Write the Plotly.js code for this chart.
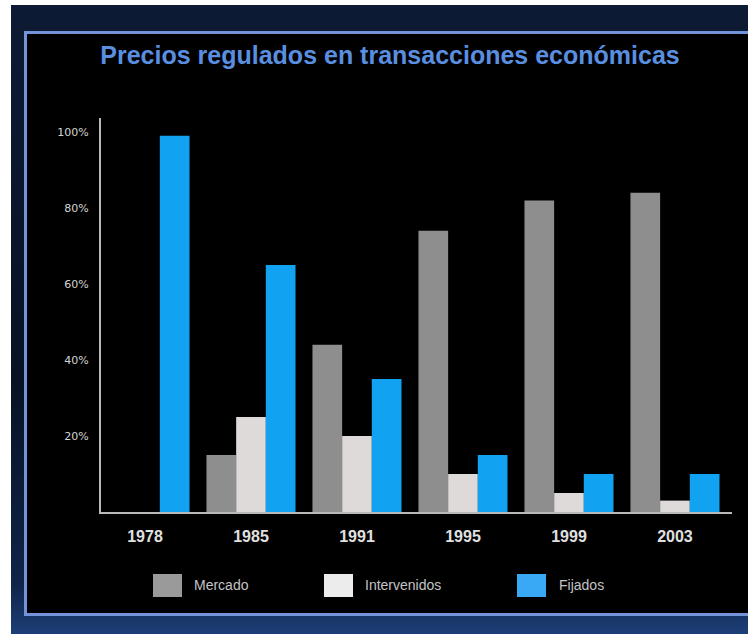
<!DOCTYPE html>
<html>
<head>
<meta charset="utf-8">
<script src="https://cdn.plot.ly/plotly-3.0.1.min.js"></script>
<style>
  html, body { margin: 0; padding: 0; background: #ffffff; width: 748px; height: 634px; overflow: hidden; }
  #frame { position: absolute; left: 11px; top: 5px; width: 737px; height: 629px;
           background: linear-gradient(180deg, #0d1a33 0%, #081224 60%, #0f2448 92%, #1d3f78 100%); }
  #inner { position: absolute; left: 24px; top: 31px; width: 740px; height: 585px;
           border: 3px solid #7393da; background: #000000; box-sizing: border-box; }
  #chart { position: absolute; left: 0; top: 0; width: 748px; height: 634px; }
</style>
</head>
<body>
<div id="frame"></div>
<div id="inner"></div>
<div id="chart"></div>
<script>
// ---- data ----
const years = ["1978", "1985", "1991", "1995", "1999", "2003"];
const seriesNames = ["Mercado", "Intervenidos", "Fijados"];
const mercado      = [null, 15, 44, 74, 82, 84];
const intervenidos = [null, 25, 20, 10, 5, 3];
const fijados      = [99, 65, 35, 15, 10, 10];
const yTickValues  = [20, 40, 60, 80, 100];
const yTickLabels  = ["20%", "40%", "60%", "80%", "100%"];

// ---- styling ----
const colors = ["#8e8e8e", "#dedada", "#12a2f2"];
const legendColors = ["#9a9a9a", "#ececec", "#3aa9f5"];

const W = 748, H = 634;
const M = { l: 101, r: 16, t: 118, b: 122 };
const pw = W - M.l - M.r, ph = H - M.t - M.b;
const px2x = p => (p - M.l) / pw;
const px2y = p => (H - M.b - p) / ph;

const traces = [mercado, intervenidos, fijados].map((vals, i) => ({
  type: "bar",
  name: seriesNames[i],
  x: years,
  y: vals,
  marker: { color: colors[i], line: { width: 0 } },
  hoverinfo: "x+y+name",
  showlegend: false
}));

// custom legend (large square swatches as in the reference)
const swatchLeft = [153, 324, 517];
const textLeft = [192, 363, 557];
const shapes = [];
const annotations = [];
seriesNames.forEach((nm, i) => {
  shapes.push({
    type: "rect", xref: "paper", yref: "paper",
    x0: px2x(swatchLeft[i]), x1: px2x(swatchLeft[i] + 29),
    y0: px2y(597), y1: px2y(574),
    fillcolor: legendColors[i], line: { width: 0 }
  });
  annotations.push({
    xref: "paper", yref: "paper",
    x: px2x(textLeft[i]), y: px2y(585),
    xanchor: "left", yanchor: "middle",
    text: nm, showarrow: false,
    font: { family: "Liberation Sans, Arial, sans-serif", size: 14, color: "#c4c4c4" }
  });
});

const layout = {
  width: W, height: H,
  margin: M,
  paper_bgcolor: "rgba(0,0,0,0)",
  plot_bgcolor: "rgba(0,0,0,0)",
  title: {
    text: "Precios regulados en transacciones económicas",
    x: 390 / W, xanchor: "center",
    y: 1 - 55 / H, yanchor: "middle",
    font: { family: "Liberation Sans, Arial, sans-serif", size: 25, color: "#5a8fe0", weight: "bold" }
  },
  barmode: "group",
  bargap: 0.16,
  bargroupgap: 0,
  xaxis: {
    type: "category",
    range: [-0.415, 5.538],
    showline: true, linecolor: "#b8b8b8", linewidth: 2,
    showgrid: false, zeroline: false,
    ticks: "outside", ticklen: 9, tickcolor: "rgba(0,0,0,0)",
    tickfont: { family: "Liberation Sans, Arial, sans-serif", size: 16, color: "#e0e0e0", weight: "bold" },
    fixedrange: true
  },
  yaxis: {
    range: [0, 103.7],
    showline: true, linecolor: "#b8b8b8", linewidth: 2,
    showgrid: false, zeroline: false,
    tickvals: yTickValues, ticktext: yTickLabels,
    ticks: "outside", ticklen: 8, tickcolor: "rgba(0,0,0,0)",
    tickfont: { family: "DejaVu Sans, sans-serif", size: 11, color: "#d4d4d4" },
    fixedrange: true
  },
  shapes: shapes,
  annotations: annotations,
  showlegend: false
};

Plotly.newPlot("chart", traces, layout, { displayModeBar: false, staticPlot: true });
</script>
</body>
</html>
